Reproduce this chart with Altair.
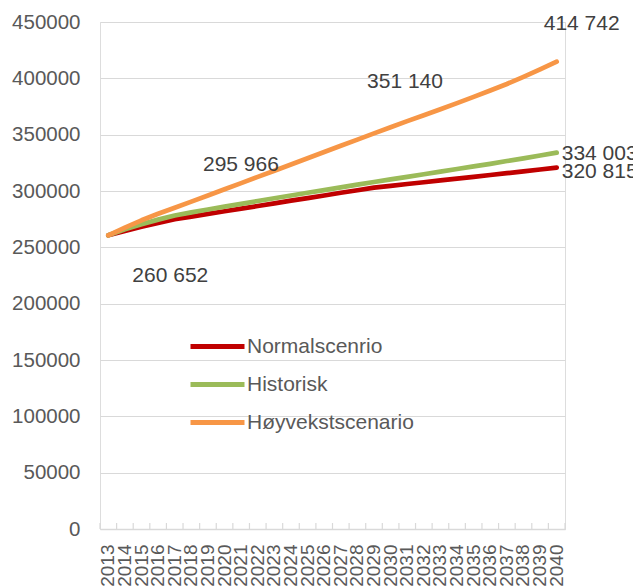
import altair as alt
import pandas as pd

years = list(range(2013, 2041))
normal = [260652, 264500, 268200, 271600, 274900, 277300, 279700, 282000, 284300, 286700,
          289000, 291400, 293700, 296000, 298400, 300700, 303000, 304600, 306200, 307800,
          309400, 311000, 312600, 314200, 315800, 317400, 319100, 320815]
historisk = [260652, 266000, 270500, 274600, 278300, 281000, 283600, 286100, 288600, 291100,
             293600, 296000, 298400, 300800, 303200, 305600, 308000, 310300, 312600, 314900,
             317200, 319500, 321800, 324100, 326600, 329000, 331500, 334003]
hoyvekst = [260652, 267500, 274000, 279800, 285200, 290600, 295966, 301500, 307000, 312500,
            318000, 323550, 329050, 334600, 340100, 345600, 351140, 356600, 362000, 367300,
            372600, 378000, 383500, 389200, 395000, 401300, 407900, 414742]
series_names = ["Normalscenrio", "Historisk", "Høyvekstscenario"]
series_colors = ["#C00000", "#9BBB59", "#F79646"]
y_ticks = [0, 50000, 100000, 150000, 200000, 250000, 300000, 350000, 400000, 450000]

rows = []
for name, vals in zip(series_names, [normal, historisk, hoyvekst]):
    for yr, v in zip(years, vals):
        rows.append({"year": str(yr), "value": v, "serie": name})
df = pd.DataFrame(rows)

W, H = 465, 507
FONT = "Liberation Sans"
year_order = [str(y) for y in years]

xscale = alt.Scale(type="band", paddingInner=0, paddingOuter=0)
yscale = alt.Scale(domain=[0, 450000], nice=False)

lines = alt.Chart(df).mark_line(strokeWidth=4.7, strokeCap="round", strokeJoin="round").encode(
    x=alt.X("year:O", bandPosition=0.5, scale=xscale, sort=year_order,
            axis=alt.Axis(title=None, labelAngle=-90, labelFontSize=19, labelColor="#595959",
                          labelFont=FONT, labelOverlap=False, ticks=False, domainColor="#D9D9D9",
                          domainWidth=1.5, labelPadding=15, grid=False)),
    y=alt.Y("value:Q", scale=yscale,
            axis=alt.Axis(title=None, values=y_ticks, format="d", labelFontSize=20.5,
                          labelColor="#595959", labelFont=FONT, ticks=False, domain=False,
                          labelPadding=20, grid=True, gridColor="#D9D9D9", gridWidth=1.2)),
    color=alt.Color("serie:N", sort=series_names,
                    scale=alt.Scale(domain=series_names, range=series_colors),
                    legend=alt.Legend(title=None, orient="none", legendX=90, legendY=297,
                                      symbolType="M-1.1,0H1.1", symbolSize=2410,
                                      symbolStrokeWidth=5,
                                      labelFontSize=21, labelFont=FONT, labelColor="#595959",
                                      labelOffset=2, rowPadding=-8, labelLimit=400)),
)

tick_df = pd.DataFrame({"year": year_order})
ticks = alt.Chart(tick_df).mark_rule(color="#D9D9D9", strokeWidth=1.2).encode(
    x=alt.X("year:O", bandPosition=0, scale=xscale, sort=year_order),
    y=alt.value(H - 6), y2=alt.value(H),
)
end_tick = alt.Chart(tick_df.head(1)).mark_rule(color="#D9D9D9", strokeWidth=1.2).encode(
    x=alt.value(W), y=alt.value(H - 6), y2=alt.value(H),
)

# data labels: (series, year, dx, dy, align)
label_specs = [
    ("Normalscenrio", 2013, 62, 41, "center"),
    ("Høyvekstscenario", 2019, 33, -31, "center"),
    ("Høyvekstscenario", 2029, 31, -51, "center"),
    ("Høyvekstscenario", 2040, 25, -38, "center"),
    ("Historisk", 2040, 5, 1, "left"),
    ("Normalscenrio", 2040, 5, 4, "left"),
]
texts = []
for serie, yr, dx, dy, align in label_specs:
    sub = df[(df.serie == serie) & (df.year == str(yr))].copy()
    sub["label"] = sub["value"].map(lambda v: f"{v:,}".replace(",", " "))
    t = alt.Chart(sub).mark_text(fontSize=21, font=FONT, color="#404040", dx=dx, dy=dy,
                                 align=align, baseline="middle").encode(
        x=alt.X("year:O", bandPosition=0.5, scale=xscale, sort=year_order),
        y=alt.Y("value:Q", scale=yscale),
        text="label:N",
    )
    texts.append(t)

chart = alt.layer(lines, ticks, end_tick, *texts).properties(
    width=W, height=H,
    autosize=alt.AutoSizeParams(type="none"),
    padding={"left": 92, "top": 14, "right": 68, "bottom": 70},
).configure_view(stroke=None).configure(background="white")

chart.save("out.html", embed_options={"renderer": "svg", "actions": False})
